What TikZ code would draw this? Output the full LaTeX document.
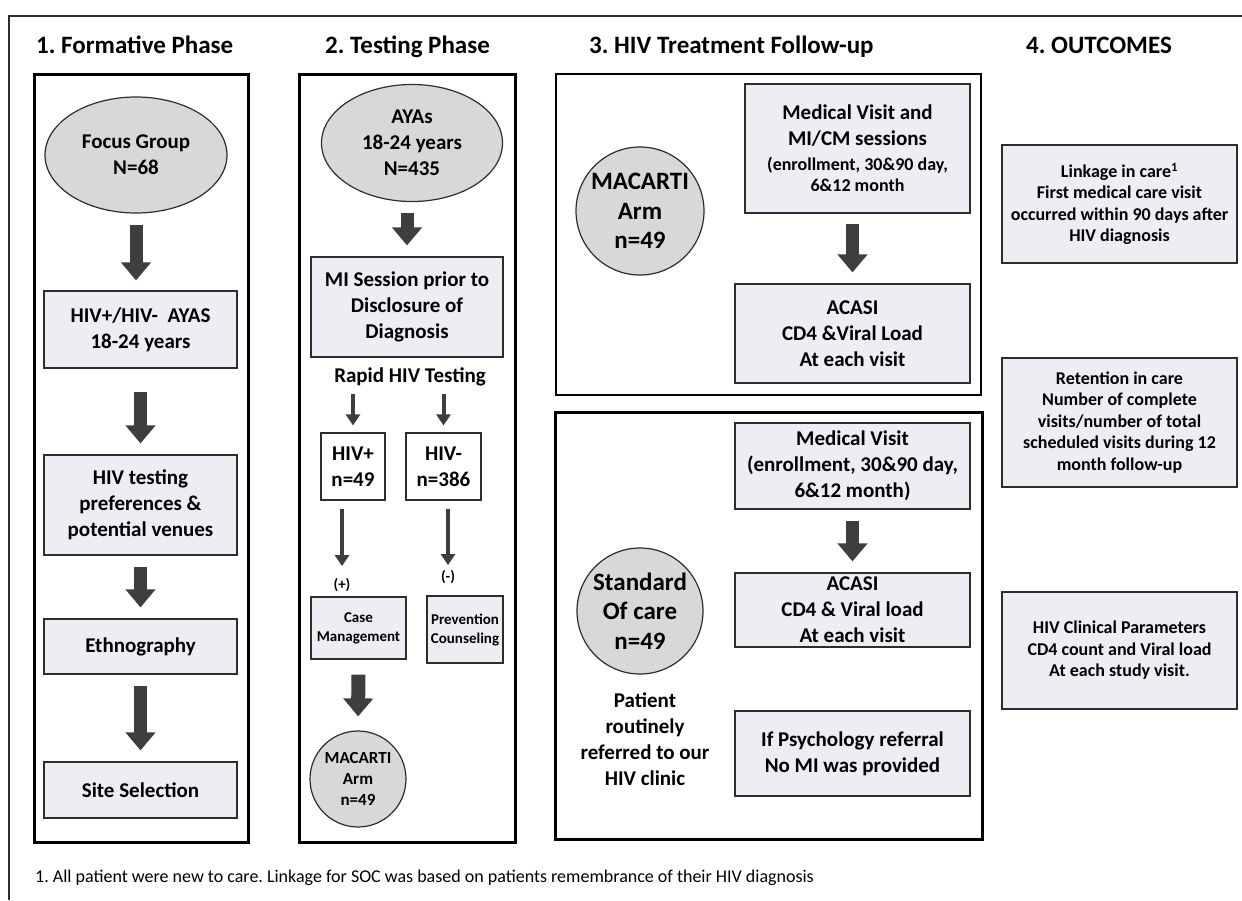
\documentclass[tikz,border=0pt]{standalone}
\usepackage{fontspec}
\setmainfont{Carlito}
\frenchspacing
\usetikzlibrary{arrows.meta,shapes.geometric}

\definecolor{boxfill}{RGB}{237,237,243}
\definecolor{ovalfill}{RGB}{216,216,218}
\definecolor{arrowgray}{RGB}{62,62,62}
\definecolor{edgegray}{RGB}{45,45,45}

\tikzset{
  phasetitle/.style={anchor=base west, inner sep=0pt, font=\fontsize{25}{29}\selectfont\bfseries},
  colframe/.style={draw=black, line width=3pt},
  stepbox/.style={draw=edgegray, fill=boxfill, line width=1.2pt, inner sep=0pt, align=center, font=\fontsize{21}{26}\selectfont\bfseries},
  smallbox/.style={stepbox, font=\fontsize{15}{19}\selectfont\bfseries},
  outbox/.style={stepbox, font=\fontsize{18}{21.5}\selectfont\bfseries},
  ovalnode/.style={ellipse, draw=edgegray, fill=ovalfill, line width=1.2pt, inner sep=0pt, align=center, font=\fontsize{21}{26}\selectfont\bfseries},
  roundnode/.style={circle, draw=edgegray, fill=ovalfill, line width=1.2pt, inner sep=0pt, align=center},
  plaintext/.style={align=center, inner sep=0pt, font=\fontsize{21}{26}\selectfont\bfseries},
  bigarrow/.style={draw=arrowgray, line width=13pt, -{Triangle[width=29pt,length=18pt]}, shorten <=11pt, shorten >=11pt},
  thinarrow/.style={draw=arrowgray, line width=4pt, -{Triangle[width=14pt,length=11pt]}},
}

\begin{document}
\begin{tikzpicture}[x=1pt,y=-1pt]
\useasboundingbox (0,0) rectangle (1242,900);
% outer frame
\draw[edgegray, line width=1.5pt] (9,900) -- (9,16) -- (1242,16);

% phase titles
\node[phasetitle] (title1) at (36,53) {1. Formative Phase};
\node[phasetitle] (title2) at (325,53) {2. Testing Phase};
\node[phasetitle] (title3) at (589,53) {3. HIV Treatment Follow-up};
\node[phasetitle] (title4) at (1026,53) {4. OUTCOMES};

% column frames
\draw[colframe] (34,74) rectangle (248,842);
\draw[colframe] (299,74) rectangle (515,842);
\draw[draw=black, line width=1.5pt] (556,74) rectangle (981,395);
\draw[colframe] (555,412) rectangle (982,839);

% 1. formative phase
\node[ovalnode, minimum width=182pt, minimum height=116pt] (focus) at (136,155) {Focus Group\\N=68};
\node[stepbox, minimum width=193pt, minimum height=77pt] (hivayas) at (140.5,329.5) {HIV+/HIV-\ \ AYAS\\18-24 years};
\node[stepbox, minimum width=193pt, minimum height=100pt] (prefs) at (140.5,505) {HIV testing\\preferences \&\\potential venues};
\node[stepbox, minimum width=193pt, minimum height=55pt] (ethno) at (140.5,646.5) {Ethnography};
\node[stepbox, minimum width=193pt, minimum height=56pt] (site) at (140.5,790) {Site Selection};
\draw[bigarrow, shorten >=10pt] (focus.south) -- (focus.south |- hivayas.north);
\draw[bigarrow, shorten <=23pt] (hivayas.south) -- (prefs.north);
\draw[bigarrow] (prefs.south) -- (ethno.north);
\draw[bigarrow] (ethno.south) -- (site.north);

% 2. testing phase
\node[ovalnode, minimum width=181pt, minimum height=117pt] (ayas) at (412,143) {AYAs\\18-24 years\\N=435};
\node[stepbox, minimum width=192pt, minimum height=100pt] (misession) at (407,307) {MI Session prior to\\Disclosure of\\Diagnosis};
\node[plaintext] (rapid) at (410,377) {Rapid HIV Testing};
\node[stepbox, fill=white, minimum width=64pt, minimum height=67pt] (hivpos) at (353,466.5) {HIV+\\n=49};
\node[stepbox, fill=white, minimum width=75pt, minimum height=67pt] (hivneg) at (443.5,466.5) {HIV-\\n=386};
\node[plaintext, font=\fontsize{15}{18}\selectfont\bfseries] (plus) at (342,585) {(+)};
\node[plaintext, font=\fontsize{15}{18}\selectfont\bfseries] (minus) at (448,577) {(-)};
\node[smallbox, minimum width=95pt, minimum height=62pt] (casemgmt) at (358.5,628) {Case\\Management};
\node[smallbox, minimum width=76pt, minimum height=67pt] (prevent) at (465,629.5) {Prevention\\Counseling};
\node[roundnode, minimum size=96pt, font=\fontsize{17}{21}\selectfont\bfseries] (arm2) at (358,779) {MACARTI\\Arm\\n=49};
\draw[bigarrow] (misession.north |- ayas.south) -- (misession.north);
\draw[thinarrow, shorten <=8pt, shorten >=7pt] (hivpos.north |- rapid.south) -- (hivpos.north);
\draw[thinarrow, shorten <=8pt, shorten >=7pt] (hivneg.north |- rapid.south) -- (hivneg.north);
\draw[thinarrow, shorten <=8pt, shorten >=12pt] (plus.north |- hivpos.south) -- (plus.north);
\draw[thinarrow, shorten <=8pt, shorten >=5pt] (minus.north |- hivneg.south) -- (minus.north);
\draw[bigarrow, line width=14pt, shorten <=15pt, shorten >=14pt] (casemgmt.south) -- (arm2.north);

% 3. HIV treatment follow-up
\node[roundnode, minimum size=128pt, font=\fontsize{25}{29.5}\selectfont\bfseries] (arm) at (640,211) {MACARTI\\Arm\\n=49};
\node[stepbox, minimum width=225pt, minimum height=129pt] (visit1) at (857.5,148.5) {Medical Visit and\\MI/CM sessions\\[-1pt]{\fontsize{18}{21}\selectfont (enrollment, 30\&90 day,}\\[-5pt]{\fontsize{18}{21}\selectfont 6\&12 month}};
\node[stepbox, minimum width=235pt, minimum height=99pt] (acasi1) at (852.5,333.5) {ACASI\\CD4 \&Viral Load\\At each visit};
\draw[bigarrow, shorten <=10pt] (acasi1.north |- visit1.south) -- (acasi1.north);

\node[roundnode, minimum size=126pt, font=\fontsize{25}{29.5}\selectfont\bfseries] (soc) at (640,611) {Standard\\Of care\\n=49};
\node[plaintext] (referred) at (645,739) {Patient\\routinely\\referred to our\\HIV clinic};
\node[stepbox, minimum width=235pt, minimum height=86pt] (visit2) at (852.5,466) {Medical Visit\\(enrollment, 30\&90 day,\\6\&12 month)};
\node[stepbox, minimum width=235pt, minimum height=74pt] (acasi2) at (852.5,610) {ACASI\\CD4 \& Viral load\\At each visit};
\node[stepbox, minimum width=235pt, minimum height=85pt] (psych) at (852.5,753.5) {If Psychology referral\\No MI was provided};
\draw[bigarrow] (visit2.south) -- (acasi2.north);

% 4. outcomes
\node[outbox, minimum width=235pt, minimum height=118pt] (linkage) at (1119.5,204) {Linkage in care\textsuperscript{1}\\First medical care visit\\occurred within 90 days after\\HIV diagnosis};
\node[outbox, minimum width=235pt, minimum height=129pt] (retention) at (1119.5,422.5) {Retention in care\\Number of complete\\visits/number of total\\scheduled visits during 12\\month follow-up};
\node[outbox, minimum width=235pt, minimum height=117pt] (clinical) at (1119.5,650.5) {HIV Clinical Parameters\\CD4 count and Viral load\\At each study visit.};

% footnote
\node[anchor=west, inner sep=0pt, font=\fontsize{18}{21}\selectfont] (footnote) at (35,878) {1. All patient were new to care. Linkage for SOC was based on patients remembrance of their HIV diagnosis};
\end{tikzpicture}
\end{document}
